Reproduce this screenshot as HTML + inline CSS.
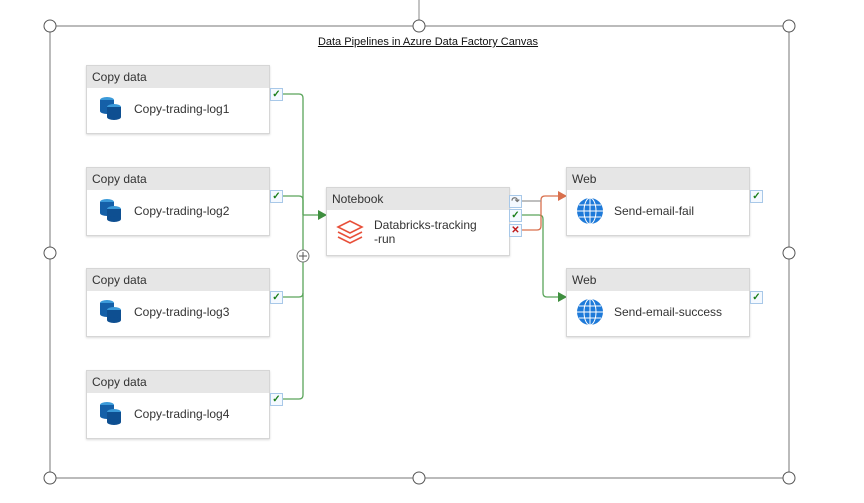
<!DOCTYPE html>
<html><head><style>
body{margin:0;width:864px;height:503px;background:#fff;overflow:hidden;font-family:"Liberation Sans",sans-serif;position:relative}
.box{position:absolute;width:182px;height:67px;border:1px solid #d6d6d6;background:#fff;box-shadow:0 1px 2px rgba(0,0,0,.15)}
.hd{height:22px;background:#e6e6e6;font-size:12px;color:#333;line-height:22px;padding-left:5px}
.nm{position:absolute;left:47px;top:36px;font-size:12px;color:#333}
.ic{position:absolute;left:12px;top:30px}
.chk{position:absolute;width:11px;height:11px;border:1px solid #a8c8e8;background:#f4f9ff;font-size:10px;line-height:11px;text-align:center;color:#1a7f1a;font-weight:bold}
</style></head><body>
<svg width="864" height="503" style="position:absolute;left:0;top:0">
<line x1="419" y1="0" x2="419" y2="20" stroke="#888"/>
<rect x="50" y="26" width="739" height="452" fill="none" stroke="#777" stroke-width="1"/>
<g fill="#fff" stroke="#555" stroke-width="1">
<circle cx="50" cy="26" r="6"/><circle cx="419" cy="26" r="6"/><circle cx="789" cy="26" r="6"/>
<circle cx="50" cy="253" r="6"/><circle cx="789" cy="253" r="6"/>
<circle cx="50" cy="478" r="6"/><circle cx="419" cy="478" r="6"/><circle cx="789" cy="478" r="6"/>
</g>
<g fill="none" stroke="#5aa55a" stroke-width="1.3">
<path d="M283 94 H299 Q303 94 303 98 V395 Q303 399 299 399 H283"/>
<path d="M283 196 H299 Q303 196 303 200 V215"/>
<path d="M283 297 H299 Q303 297 303 293"/>
<path d="M303 215 H318"/>
<path d="M522 215 H539 Q543 215 543 219 V293 Q543 297 547 297 H558"/>
</g>
<polygon points="318,210 327,215 318,220" fill="#3f8f3f"/>
<polygon points="558,292 567,297 558,302" fill="#3f8f3f"/>
<g fill="none" stroke="#d9704d" stroke-width="1.3">
<path d="M522 230 H537 Q541 230 541 226 V200 Q541 196 545 196 H558"/>
</g>
<path d="M522 201 H541" stroke="#999" stroke-width="1.3"/>
<polygon points="558,191 567,196 558,201" fill="#d9704d"/>
<circle cx="303" cy="256" r="6" fill="#fff" stroke="#777"/>
<path d="M299 256 H307 M303 252 V260" stroke="#555"/>
</svg>
<div style="position:absolute;left:0;width:856px;top:36px;text-align:center;font-size:11px;text-decoration:underline;color:#111">Data Pipelines in Azure Data Factory Canvas</div>

<div class="box" style="left:86px;top:65px"><div class="hd">Copy data</div><svg class="ic" width="24" height="24"><ellipse cx="8" cy="4" rx="7" ry="3" fill="#3b9ad9"/><rect x="1" y="4" width="14" height="11" fill="#1560a8"/><ellipse cx="8" cy="15" rx="7" ry="3" fill="#1560a8"/><ellipse cx="15" cy="11" rx="7" ry="3" fill="#3b9ad9"/><rect x="8" y="11" width="14" height="10" fill="#0e4f91"/><ellipse cx="15" cy="21" rx="7" ry="3" fill="#0e4f91"/></svg><div class="nm">Copy-trading-log1</div></div>
<div class="box" style="left:86px;top:167px"><div class="hd">Copy data</div><svg class="ic" width="24" height="24"><ellipse cx="8" cy="4" rx="7" ry="3" fill="#3b9ad9"/><rect x="1" y="4" width="14" height="11" fill="#1560a8"/><ellipse cx="8" cy="15" rx="7" ry="3" fill="#1560a8"/><ellipse cx="15" cy="11" rx="7" ry="3" fill="#3b9ad9"/><rect x="8" y="11" width="14" height="10" fill="#0e4f91"/><ellipse cx="15" cy="21" rx="7" ry="3" fill="#0e4f91"/></svg><div class="nm">Copy-trading-log2</div></div>
<div class="box" style="left:86px;top:268px"><div class="hd">Copy data</div><svg class="ic" width="24" height="24"><ellipse cx="8" cy="4" rx="7" ry="3" fill="#3b9ad9"/><rect x="1" y="4" width="14" height="11" fill="#1560a8"/><ellipse cx="8" cy="15" rx="7" ry="3" fill="#1560a8"/><ellipse cx="15" cy="11" rx="7" ry="3" fill="#3b9ad9"/><rect x="8" y="11" width="14" height="10" fill="#0e4f91"/><ellipse cx="15" cy="21" rx="7" ry="3" fill="#0e4f91"/></svg><div class="nm">Copy-trading-log3</div></div>
<div class="box" style="left:86px;top:370px"><div class="hd">Copy data</div><svg class="ic" width="24" height="24"><ellipse cx="8" cy="4" rx="7" ry="3" fill="#3b9ad9"/><rect x="1" y="4" width="14" height="11" fill="#1560a8"/><ellipse cx="8" cy="15" rx="7" ry="3" fill="#1560a8"/><ellipse cx="15" cy="11" rx="7" ry="3" fill="#3b9ad9"/><rect x="8" y="11" width="14" height="10" fill="#0e4f91"/><ellipse cx="15" cy="21" rx="7" ry="3" fill="#0e4f91"/></svg><div class="nm">Copy-trading-log4</div></div>

<div class="box" style="left:326px;top:187px"><div class="hd">Notebook</div><svg class="ic" width="30" height="26" style="left:9px;top:31px"><g fill="none" stroke="#e8503a" stroke-width="1.6"><path d="M2 8 L14 2 L26 8 L14 14 Z"/><path d="M2 13 L14 19 L26 13"/><path d="M2 18 L14 24 L26 18"/></g></svg><div class="nm" style="top:30px;line-height:14px">Databricks-tracking<br>-run</div></div>

<div class="box" style="left:566px;top:167px"><div class="hd">Web</div><svg class="ic" width="28" height="28" style="top:29px;left:9px"><circle cx="14" cy="14" r="13" fill="#1e7ad9"/><g fill="none" stroke="#fff" stroke-width="1"><ellipse cx="14" cy="14" rx="6" ry="13"/><line x1="14" y1="1" x2="14" y2="27"/><line x1="1" y1="14" x2="27" y2="14"/><line x1="3" y1="8" x2="25" y2="8"/><line x1="3" y1="20" x2="25" y2="20"/></g></svg><div class="nm">Send-email-fail</div></div>
<div class="box" style="left:566px;top:268px"><div class="hd">Web</div><svg class="ic" width="28" height="28" style="top:29px;left:9px"><circle cx="14" cy="14" r="13" fill="#1e7ad9"/><g fill="none" stroke="#fff" stroke-width="1"><ellipse cx="14" cy="14" rx="6" ry="13"/><line x1="14" y1="1" x2="14" y2="27"/><line x1="1" y1="14" x2="27" y2="14"/><line x1="3" y1="8" x2="25" y2="8"/><line x1="3" y1="20" x2="25" y2="20"/></g></svg><div class="nm">Send-email-success</div></div>

<div class="chk" style="left:270px;top:88px">✓</div>
<div class="chk" style="left:270px;top:190px">✓</div>
<div class="chk" style="left:270px;top:291px">✓</div>
<div class="chk" style="left:270px;top:393px">✓</div>
<div class="chk" style="left:509px;top:195px;color:#777">↷</div>
<div class="chk" style="left:509px;top:209px">✓</div>
<div class="chk" style="left:509px;top:224px;color:#c01818">✕</div>
<div class="chk" style="left:750px;top:190px">✓</div>
<div class="chk" style="left:750px;top:291px">✓</div>
</body></html>
